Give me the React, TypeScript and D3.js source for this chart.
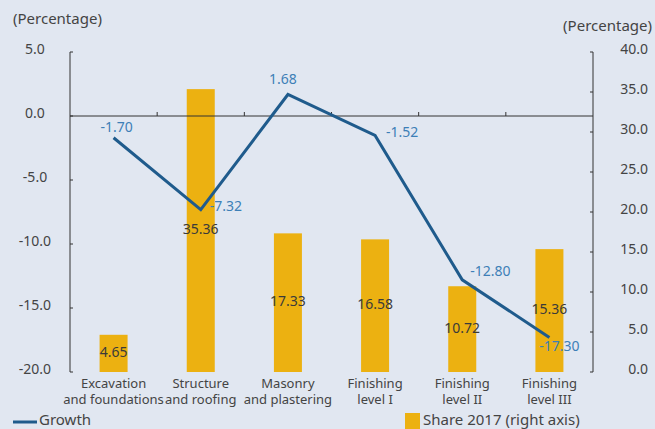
import React from "react";
import * as d3 from "d3";

const categories: string[][] = [
  ["Excavation", "and foundations"],
  ["Structure", "and roofing"],
  ["Masonry", "and plastering"],
  ["Finishing", "level I"],
  ["Finishing", "level II"],
  ["Finishing", "level III"],
];
const growth = [-1.7, -7.32, 1.68, -1.52, -12.8, -17.3];
const share = [4.65, 35.36, 17.33, 16.58, 10.72, 15.36];
const leftTicks = [5, 0, -5, -10, -15, -20];
const rightTicks = [40, 35, 30, 25, 20, 15, 10, 5, 0];

// label offsets (style)
const growthLabelOffsets: [number, number, string][] = [
  [3, -10, "middle"],
  [9, -2, "start"],
  [-5, -14, "middle"],
  [11, -2, "start"],
  [8, -8, "start"],
  [10, 10, "middle"],
];

const W = 655;
const H = 429;
const FONT = "'Noto Sans', 'Open Sans', sans-serif";
const BG = "#e1e7f1";
const BAR = "#ecb111";
const LINE = "#1f5b8c";
const LBLUE = "#3d7fb7";
const AXIS = "#333";
const TEXT = "#444";

const locale = d3.formatLocale({ decimal: ".", thousands: ",", grouping: [3], currency: ["", ""], minus: "-" });
const f1 = locale.format(".1f");
const f2 = locale.format(".2f");

export default function App() {
  const x0 = 70;
  const x1 = 593;
  const yTop = 52;
  const yBot = 372;
  const x = d3.scaleBand<number>().domain(d3.range(categories.length)).range([x0, x1]);
  const yL = d3.scaleLinear().domain([-20, 5]).range([yBot, yTop]);
  const yR = d3.scaleLinear().domain([0, 40]).range([yBot, yTop]);
  const bw = 28;
  const cx = (i: number) => (x(i) as number) + x.bandwidth() / 2;
  const line = d3
    .line<number>()
    .x((_, i) => cx(i))
    .y((d) => yL(d));

  return (
    <div style={{ position: "fixed", left: 0, top: 0, width: W, height: H }}>
      <svg width={W} height={H} style={{ display: "block", background: BG, fontFamily: FONT }}>
        <rect width={W} height={H} fill={BG} />
        {/* bars */}
        {share.map((v, i) => (
          <rect key={"b" + i} x={cx(i) - bw / 2} y={yR(v)} width={bw} height={yR(0) - yR(v)} fill={BAR} />
        ))}
        {/* axes */}
        <line x1={x0} x2={x0} y1={yTop} y2={yBot} stroke={AXIS} strokeWidth={1} />
        <line x1={x1} x2={x1} y1={yTop} y2={yBot} stroke={AXIS} strokeWidth={1} />
        <line x1={x0} x2={x1} y1={yL(0)} y2={yL(0)} stroke={AXIS} strokeWidth={1} />
        {d3.range(1, categories.length).map((i) => (
          <line key={"ct" + i} x1={x(i) as number} x2={x(i) as number} y1={yL(0)} y2={yL(0) - 4} stroke={AXIS} />
        ))}
        {leftTicks.map((t) => (
          <g key={"lt" + t}>
            <line x1={x0} x2={x0 + 3} y1={yL(t)} y2={yL(t)} stroke={AXIS} />
            <text x={35} y={yL(t)} dy="-0.1em" textAnchor="middle" dominantBaseline="middle" fontSize={14} fill={TEXT}>
              {f1(t)}
            </text>
          </g>
        ))}
        {rightTicks.map((t) => (
          <g key={"rt" + t}>
            <line x1={x1} x2={x1 - 3} y1={yR(t)} y2={yR(t)} stroke={AXIS} />
            <text x={648} y={yR(t)} dy="-0.1em" textAnchor="end" dominantBaseline="middle" fontSize={14} fill={TEXT}>
              {f1(t)}
            </text>
          </g>
        ))}
        <text x={13} y={20} dominantBaseline="middle" fontSize={15} fill={TEXT}>(Percentage)</text>
        <text x={652} y={27} textAnchor="end" dominantBaseline="middle" fontSize={15} fill={TEXT}>(Percentage)</text>
        {/* bar labels */}
        {share.map((v, i) => (
          <text key={"bl" + i} x={cx(i)} y={yR(v / 2)} textAnchor="middle" dominantBaseline="middle" fontSize={14} fill="#3a3a3a">
            {f2(v)}
          </text>
        ))}
        {/* growth line */}
        <path d={line(growth) || ""} fill="none" stroke={LINE} strokeWidth={3} strokeLinejoin="miter" />
        {growth.map((v, i) => {
          const [dx, dy, anchor] = growthLabelOffsets[i];
          return (
            <text key={"gl" + i} x={cx(i) + dx} y={yL(v) + dy} textAnchor={anchor as any} dominantBaseline="middle" fontSize={14} fill={LBLUE}>
              {f2(v)}
            </text>
          );
        })}
        {/* category labels */}
        {categories.map((c, i) =>
          c.map((s, j) => (
            <text key={"c" + i + "_" + j} x={cx(i)} y={388 + j * 16} textAnchor="middle" fontSize={13} fill={TEXT}>
              {s}
            </text>
          ))
        )}
        {/* legend */}
        <line x1={13} x2={37} y1={422} y2={422} stroke={LINE} strokeWidth={3} />
        <text x={39} y={421} dominantBaseline="middle" fontSize={15} fill={TEXT}>Growth</text>
        <rect x={405} y={413} width={15} height={16} fill={BAR} />
        <text x={423} y={421} dominantBaseline="middle" fontSize={15} fill={TEXT}>Share 2017 (right axis)</text>
      </svg>
    </div>
  );
}
